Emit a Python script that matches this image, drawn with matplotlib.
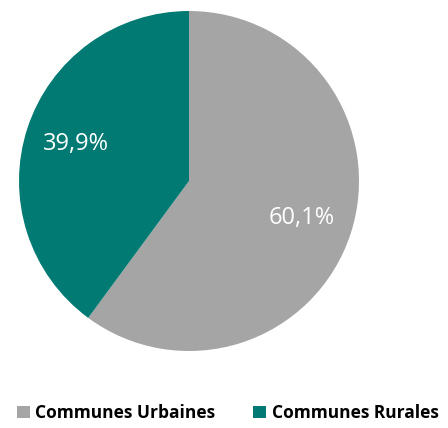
import matplotlib.pyplot as plt
from matplotlib.patches import Patch

labels = ['Communes Urbaines', 'Communes Rurales']
values = [60.1, 39.9]
colors = ['#A5A5A5', '#007A72']

fig = plt.figure(figsize=(4.48, 4.28), dpi=100)
ax = fig.add_axes([19 / 448, 77 / 428, 340 / 448, 340 / 428])

wedges, texts, autotexts = ax.pie(
    values, colors=colors, startangle=90, counterclock=False,
    autopct=lambda p: ('%.1f%%' % p).replace('.', ','), pctdistance=0.7,
    textprops={'color': 'white', 'fontsize': 17, 'family': 'Open Sans'})
ax.set_xlim(-1, 1)
ax.set_ylim(-1, 1)
ax.set_aspect('equal')

handles = [Patch(facecolor=c, edgecolor='none') for c in colors]
fig.legend(handles, labels, loc='center', bbox_to_anchor=(0.508, 1 - 413 / 428), ncol=2,
           frameon=False, handlelength=0.75, handleheight=0.75, handletextpad=0.3,
           columnspacing=2.2, prop={'family': 'Open Sans', 'weight': 'bold', 'size': 12.5})

fig.savefig('out.png', dpi=100)
